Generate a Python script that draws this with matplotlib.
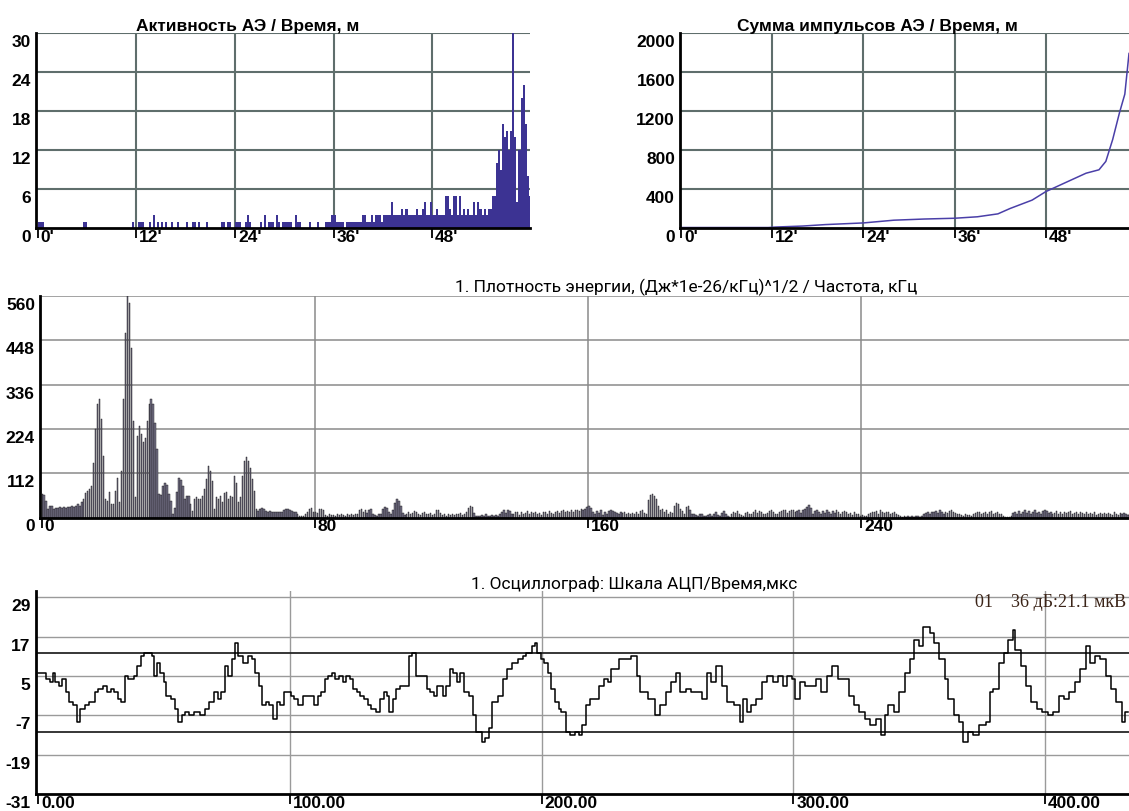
import numpy as np
import matplotlib.pyplot as plt
from matplotlib import transforms

# ---------------- data ----------------
# activity AE, counts per 0.25 min, 0..60 min
act_step = 0.25
activity = [
    1, 1, 1, 0, 0, 0, 0, 0, 0, 0, 0, 0, 0, 0, 0, 0,
    0, 0, 0, 0, 0, 0, 1, 1, 0, 0, 0, 0, 0, 0, 0, 0,
    0, 0, 0, 0, 0, 0, 0, 0, 0, 0, 0, 0, 0, 0, 1, 0,
    0, 1, 1, 1, 0, 0, 1, 0, 2, 0, 1, 0, 1, 0, 1, 0,
    0, 1, 0, 0, 1, 0, 0, 0, 1, 0, 0, 1, 1, 0, 1, 0,
    0, 0, 1, 0, 0, 0, 0, 0, 0, 1, 1, 0, 1, 1, 0, 0,
    1, 1, 1, 0, 0, 1, 2, 1, 0, 0, 0, 0, 1, 0, 2, 0,
    1, 1, 1, 0, 2, 1, 0, 1, 1, 1, 1, 1, 0, 2, 1, 1,
    0, 0, 0, 0, 1, 0, 0, 0, 1, 0, 0, 0, 1, 1, 1, 2,
    2, 1, 1, 1, 1, 0, 1, 1, 1, 1, 1, 1, 1, 1, 2, 2,
    1, 1, 2, 1, 2, 2, 2, 1, 2, 2, 2, 2, 4, 2, 2, 2,
    2, 3, 2, 3, 2, 2, 2, 2, 3, 2, 2, 3, 4, 2, 2, 4,
    2, 2, 3, 2, 2, 2, 5, 5, 3, 2, 5, 5, 2, 5, 2, 3,
    2, 3, 2, 2, 4, 2, 4, 3, 2, 3, 2, 3, 3, 5, 5, 10,
    12, 9, 16, 14, 15, 12, 15, 30, 14, 4, 12, 20, 22, 16, 8, 5,
]

# cumulative sum of AE pulses
cum_t = [0, 11.5, 12.5, 16, 19, 24, 28, 32, 36, 39, 41.7, 43.3, 46.2, 48,
         50.6, 53.3, 55, 55.9, 56.8, 57.7, 58.4, 58.95]
cum_v = [5, 5, 10, 20, 35, 52, 80, 92, 100, 115, 145, 200, 286, 373,
         466, 562, 597, 683, 907, 1183, 1373, 1790]

# energy density spectrum, 0.58 kHz per bin
spec_step = 0.58
spec_low = [
    59, 56, 42, 21, 28, 28, 21, 25, 24, 26, 24, 26, 24, 26, 26, 28, 26, 29, 33, 28,
    38, 48, 61, 67, 72, 80, 139, 223, 286, 299, 248, 156, 46, 42, 65, 34, 34, 67, 101, 38,
    118, 299, 467, 560, 543, 429, 244, 51, 206, 232, 211, 190, 202, 244, 286, 299, 286, 240, 173, 59,
    56, 80, 88, 82, 59, 42, 8, 23, 65, 101, 95, 80, 48, 55, 55, 34, 17, 46, 51, 48,
    48, 55, 72, 97, 131, 118, 93, 21, 53, 46, 55, 38, 61, 65, 46, 55, 51, 104, 88, 38,
    53, 104, 143, 152, 143, 126, 97, 67, 21, 17, 21, 23, 21, 17, 13, 17, 14, 13, 14, 13,
    13, 13, 19, 21, 21, 19, 17, 14, 13, 8, 4, 4, 4, 8, 14, 21, 23, 13,
]
spec_high = [
    14, 12, 22, 21, 18, 7, 5, 8, 6, 7, 5, 8, 6, 9, 7, 5, 8, 6, 9, 7,
    8, 10, 18, 21, 14, 20, 12, 19, 21, 10, 6, 5, 8, 10, 22, 26, 24, 14, 8, 20,
    36, 47, 42, 30, 12, 6, 10, 13, 8, 12, 17, 15, 9, 6, 12, 13, 8, 10, 12, 6,
    10, 20, 18, 12, 6, 8, 5, 10, 7, 9, 6, 8, 10, 12, 7, 9, 14, 24, 30, 26,
    12, 4, 3, 5, 6, 4, 8, 5, 3, 6, 4, 7, 5, 8, 14, 20, 12, 18, 16, 10,
    8, 14, 13, 6, 15, 10, 12, 16, 8, 13, 11, 14, 9, 12, 7, 15, 13, 10, 16, 12,
    10, 14, 17, 12, 16, 18, 13, 17, 15, 19, 14, 18, 20, 16, 21, 18, 22, 26, 30, 24,
    14, 8, 16, 12, 18, 6, 14, 10, 16, 18, 17, 13, 12, 10, 14, 11, 13, 9, 12, 10,
    12, 10, 14, 9, 16, 20, 12, 8, 44, 56, 60, 54, 46, 30, 20, 22, 14, 18, 10, 13,
    12, 28, 36, 34, 22, 16, 10, 26, 30, 18, 8, 10, 6, 4, 8, 10, 5, 3, 6, 9,
    4, 10, 14, 6, 3, 12, 16, 10, 4, 2, 8, 14, 12, 16, 10, 6, 3, 12, 15, 8,
    10, 14, 18, 12, 16, 14, 10, 8, 12, 16, 18, 14, 10, 8, 14, 16, 20, 18, 12, 16,
    18, 20, 14, 16, 20, 12, 18, 22, 26, 32, 24, 10, 16, 18, 14, 8, 16, 12, 18, 15,
    10, 16, 12, 18, 14, 8, 13, 17, 15, 10, 12, 6, 14, 9, 8, 4, 6, 3, 5, 10,
    12, 15, 14, 16, 10, 18, 14, 12, 15, 13, 8, 12, 14, 10, 6, 3, 2, 3, 2, 3,
    2, 3, 2, 4, 3, 2, 3, 10, 12, 14, 10, 13, 15, 16, 12, 18, 14, 10, 15, 12,
    16, 18, 14, 12, 10, 8, 6, 5, 8, 6, 7, 4, 10, 12, 14, 15, 10, 12, 14, 8,
    14, 16, 10, 12, 14, 8, 10, 3, 2, 1, 2, 3, 12, 14, 10, 16, 8, 14, 18, 12,
    16, 10, 14, 18, 12, 15, 10, 16, 18, 17, 12, 15, 8, 12, 16, 10, 14, 9, 15, 12,
    14, 16, 10, 12, 15, 8, 13, 12, 10, 14, 9, 12, 8, 13, 6, 10, 12, 8, 11, 9,
    12, 10, 7, 13, 9, 6, 11, 8, 12, 10, 6, 8, 9, 7, 10, 8, 6, 9, 8, 7,
]

# oscillogram, ADC scale vs time (us)
osc_t = [0, 1.7, 3.1, 4.5, 5.7, 6.7, 8.1, 9.5, 10.9, 12.3, 13.8, 15.2, 16.6, 18.7, 20.1,
         22.3, 23.7, 25.8, 27.2, 28.7, 30.1, 31.5, 32.9, 34.3, 35.7, 37.9, 39.3, 40.7, 42.1,
         44.3, 45.0, 46.0, 47.1, 48.5, 49.9, 50.6, 52.8, 54.2, 55.6, 57.0, 58.4, 59.9, 62.0,
         64.1, 66.2, 67.7, 69.8, 71.2, 72.6, 74.0, 75.5, 76.9, 78.3, 79.4, 81.1, 83.3, 84.7,
         86.1, 87.5, 88.9, 90.4, 91.8, 93.2, 94.6, 96.0, 97.4, 98.9, 100.3, 101.7, 103.1,
         105.2, 106.7, 108.1, 109.5, 110.9, 112.3, 113.8, 115.2, 116.6, 118.0, 119.4, 120.9,
         122.3, 123.7, 125.1, 126.5, 127.9, 129.4, 130.8, 132.2, 134.3, 135.7, 137.2, 138.6,
         139.3, 140.7, 142.1, 143.5, 145.7, 147.1, 148.5, 149.9, 152.8, 154.2, 155.6, 157.0,
         158.4, 160.6, 162.0, 163.4, 164.8, 166.2, 167.7, 169.1, 171.2, 172.6, 174.0, 176.2,
         177.6, 179.0, 180.4, 182.6, 184.7, 186.1, 188.2, 190.4, 192.5, 193.9, 196.0, 197.4,
         198.2, 199.6, 201.0, 202.4, 203.8, 205.2, 206.7,
         207.5, 209.6, 211.1, 213.2, 214.7, 216.1, 217.6, 219.0, 221.2, 222.6, 224.7, 226.2,
         227.6, 230.5, 233.4, 235.5, 237.7, 239.2, 242.0, 244.9, 247.1, 249.2, 251.4, 253.5,
         255.0, 257.1, 259.3, 261.4, 263.6, 265.8, 267.2, 269.4, 271.5, 273.7, 276.5, 278.7,
         280.1, 281.6, 283.0, 285.2, 287.3, 289.5, 291.7, 293.8, 296.0, 297.4, 299.6, 300.7,
         302.4, 304.6, 306.8, 308.9, 311.1, 313.2, 315.4, 317.6, 319.7, 321.9, 324.0, 326.2,
         328.3, 330.5, 332.7, 334.8, 336.3, 337.7, 339.9, 342.0, 344.2, 346.3, 347.8, 350.0,
         351.4, 352.8, 354.2, 355.7, 357.8, 360.0, 361.4, 363.6, 365.8, 367.2, 369.4, 371.5,
         373.7, 376.5, 378.0, 379.4, 381.6, 383.7, 385.2, 387.1, 388.1, 390.2, 392.4, 394.5,
         396.7, 398.8, 401.0, 403.2, 405.3, 407.5, 409.6, 411.8, 414.0, 416.1, 417.8, 419.7,
         421.9, 424.0, 426.2, 428.3, 430.5, 431.9, 433.1]
osc_v = [6, 6, 4, 3, 6, 3, 2, 4, 0, -3, -4, -9, -5, -4, -3,
         0, 1, 2, 0, 1, 0, -2, -3, 5, 4, 5, 8, 11, 12,
         12, 11, 5, 9, 6, 3, -1, -2, -5, -9, -7, -6, -7, -6,
         -7, -5, -3, 0, -2, 0, 8, 5, 10, 15, 11, 9, 11, 10,
         6, 2, -4, -3, -4, -8, -3, -4, 0, 0, -1, -2, -4,
         -1, -1, -1, -4, -1, 0, 4, 5, 6, 4, 5, 3,
         5, 4, 1, 0, -1, -2, -4, -5, -6, -2, 0, -1,
         -6, -2, 1, 2, 2, 11, 12, 5, 5, 1, 0, -1,
         2, -1, 2, 7, 6, 3, 6, 0, -1, -7, -12, -15,
         -14, -11, -3, -1, 4, 7, 9, 10, 11, 12, 14, 15,
         12, 10, 9, 6, 1, -3, -5,
         -6, -12, -13, -12, -13, -10, -4, -2, -2, 2, 4, 3,
         7, 10, 10, 11, 5, 0, -2, -7, -4, 0, 3, 6,
         0, 1, 0, 0, -2, 6, 3, 8, 2, -3, -4, -9,
         -2, -6, -4, -2, 3, 5, 3, 5, 2, 5, 4, -2,
         3, 2, 2, 4, 0, 5, 8, 4, 4, -1, -4, -6,
         -8, -10, -8, -13, -7, -4, -6, 0, 6, 10, 16, 14,
         20, 20, 18, 15, 10, 4, -2, -7, -9, -15, -12, -13,
         -10, -9, 0, 1, 9, 12, 16, 19, 13, 8, 2, -3,
         -5, -6, -7, -6, -1, -2, 0, 3, 7, 14, 9, 11,
         10, 5, 1, -3, -9, -6, -6]
osc_threshold = 12

title_act = 'Активность АЭ / Время, м'
title_sum = 'Сумма импульсов АЭ / Время, м'
title_spec = '1. Плотность энергии, (Дж*1е-26/кГц)^1/2 / Частота, кГц'
title_osc = '1. Осциллограф: Шкала АЦП/Время,мкс'
osc_info = '01    36 дБ:21.1 мкВ'

time_ticks = [0, 12, 24, 36, 48]
time_labels = ["0'", "12'", "24'", "36'", "48'"]

# ---------------- drawing ----------------
W, H = 1129, 812
NARROW = ['Liberation Sans Narrow', 'Liberation Sans', 'DejaVu Sans']
PLAIN = ['Roboto', 'DejaVu Sans']
SERIF = ['Liberation Serif', 'DejaVu Serif']

fig = plt.figure(figsize=(W / 100, H / 100), dpi=100)


def add_axes_px(left, top, right, bottom):
    return fig.add_axes([left / W, 1 - bottom / H, (right - left) / W, (bottom - top) / H])


def decorate(ax, xticks, xlabels, yticks, ylabels, vgrid, grid_color, grid_lw):
    for s in ('top', 'right'):
        ax.spines[s].set_visible(False)
    for s in ('left', 'bottom'):
        ax.spines[s].set_linewidth(2)
        ax.spines[s].set_zorder(5)
    for y in yticks[1:]:
        ax.axhline(y, color=grid_color, lw=grid_lw, zorder=0.5)
    for x in vgrid:
        ax.axvline(x, color=grid_color, lw=grid_lw, zorder=0.5)
    ax.set_xticks(xticks)
    ax.set_xticklabels([])
    ax.set_yticks([])
    ax.tick_params(axis='x', length=7, width=1.3, direction='out')

    tx = transforms.blended_transform_factory(ax.transData, ax.transAxes)
    tx = transforms.offset_copy(tx, fig=fig, x=3, y=-1, units='dots')
    for x, lab in zip(xticks, xlabels):
        ax.text(x, 0, lab, transform=tx, ha='left', va='top', fontsize=12.5,
                fontweight='bold', family=NARROW, clip_on=False)
    ty = transforms.blended_transform_factory(ax.transAxes, ax.transData)
    ty = transforms.offset_copy(ty, fig=fig, x=-5, y=-1, units='dots')
    for y, lab in zip(yticks, ylabels):
        ax.text(0, y, lab, transform=ty, ha='right', va='top', fontsize=12.5,
                fontweight='bold', family=NARROW, clip_on=False)


# activity
ax1 = add_axes_px(36, 34, 530, 229)
t_act = np.arange(len(activity)) * act_step
ax1.bar(t_act, activity, width=act_step, align='edge', color='#3c3393', lw=0, zorder=2)
ax1.set_xlim(-0.2, 59.9)
ax1.set_ylim(0, 30)
decorate(ax1, time_ticks, time_labels, [0, 6, 12, 18, 24, 30],
         ['0', '6', '12', '18', '24', '30'], time_ticks[1:], '#5f6e6c', 1.5)

# cumulative sum
ax2 = add_axes_px(680, 34, 1129, 229)
ax2.plot(cum_t, cum_v, color='#4a3fa8', lw=1.1, zorder=2)
ax2.set_xlim(-0.13, 58.95)
ax2.set_ylim(0, 2000)
decorate(ax2, time_ticks, time_labels, [0, 400, 800, 1200, 1600, 2000],
         ['0', '400', '800', '1200', '1600', '2000'], time_ticks[1:], '#5f6e6c', 1.5)

# spectrum
ax3 = add_axes_px(40, 297, 1129, 518.5)
spec = spec_low + spec_high
f_spec = np.arange(len(spec)) * spec_step
ax3.bar(f_spec, spec, width=0.4, align='edge', color='#77738a', edgecolor='#101010',
        lw=0.3, zorder=2)
ax3.set_xlim(-0.44, 318.3)
ax3.set_ylim(0, 560)
decorate(ax3, [0, 80, 160, 240], ['0', '80', '160', '240'],
         [0, 112, 224, 336, 448, 560], ['0', '112', '224', '336', '448', '560'],
         [80, 160, 240], '#8a8a8a', 1.1)

# oscillogram
ax4 = add_axes_px(35.5, 591.6, 1129, 795)
ax4.plot(osc_t, osc_v, drawstyle='steps-post', color='black', lw=1.1, zorder=3)
ax4.axhline(osc_threshold, color='#262626', lw=1.3, zorder=1)
ax4.axhline(-osc_threshold, color='#262626', lw=1.3, zorder=1)
ax4.set_xlim(-1.15, 433.3)
ax4.set_ylim(-31, 31)
decorate(ax4, [0, 100, 200, 300, 400], ['0.00', '100.00', '200.00', '300.00', '400.00'],
         [-31, -19, -7, 5, 17, 29], ['-31', '-19', '-7', '5', '17', '29'],
         [100, 200, 300, 400], '#9a9a9a', 1.0)

# titles
fig.text(248 / W, 1 - 31 / H, title_act, ha='center', va='baseline', fontsize=12.5,
         fontweight='bold', family=NARROW)
fig.text(877 / W, 1 - 31 / H, title_sum, ha='center', va='baseline', fontsize=12.5,
         fontweight='bold', family=NARROW)
fig.text(686 / W, 1 - 292 / H, title_spec, ha='center', va='baseline', fontsize=12.5,
         family=PLAIN)
fig.text(634 / W, 1 - 589 / H, title_osc, ha='center', va='baseline', fontsize=12.5,
         family=PLAIN)
fig.text(1126 / W, 1 - 607 / H, osc_info, ha='right', va='baseline', fontsize=13,
         family=SERIF, color='#3b2418')

fig.savefig('out.png', dpi=100)
